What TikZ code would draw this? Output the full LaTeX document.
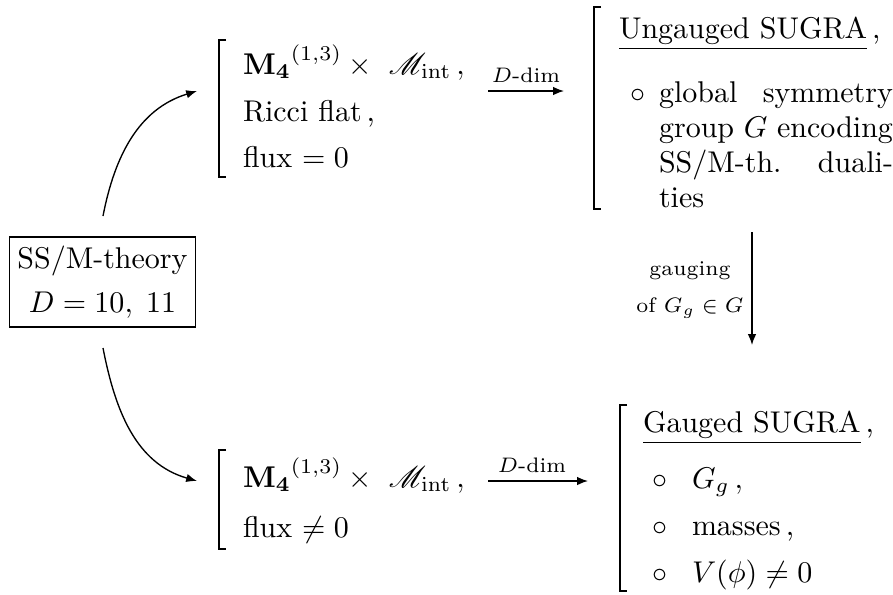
\documentclass[tikz,border=0pt]{standalone}
\usepackage{amsmath,amssymb}
\usepackage{mathrsfs}
\usetikzlibrary{arrows.meta}
\begin{document}
\begin{tikzpicture}[x=0.33333pt,y=-0.33333pt,
  txt/.style={anchor=base west, inner sep=0pt, outer sep=0pt},
  brk/.style={line width=0.8pt},
  arr/.style={-{Latex[length=3.6pt,width=2.8pt]}, line width=0.45pt},
  lab/.style={font=\scriptsize, inner sep=0pt, anchor=base}]
\useasboundingbox (0,0) rectangle (893,594);

% source box
\node[draw, line width=0.45pt, minimum width=62pt, minimum height=30pt,
      align=center, inner sep=0pt] (src) at (102.5,282)
      {SS/M-theory\\[2.5pt] $D = 10,\; 11$};
\coordinate (s1) at (103,216);
\coordinate (s2) at (103,348);
\coordinate (t1) at (197,91);
\coordinate (t2) at (197,481);
\draw[arr] (s1) to[out=79, in=197] (t1);
\draw[arr] (s2) to[out=-79, in=164] (t2);

% top-left block
\draw[brk] (226,40) -- (219,40) -- (219,177) -- (226,177);
\node[txt] (a1) at (243,74) {$\mathbf{M_4}^{(1,3)}\times\ \mathscr{M}_{\rm int}\,,$};
\node[txt] (a2) at (243,121) {Ricci flat\,,};
\node[txt] (a3) at (243,167) {flux $=0$};

% top D-dim arrow
\coordinate (d1s) at (488,91);
\coordinate (d1e) at (564,91);
\draw[arr] (d1s) -- (d1e);
\node[lab] (d1l) at (526,82) {$D$-dim};

% top-right block
\draw[brk] (601,7) -- (594,7) -- (594,209) -- (601,209);
\node[txt] (u0) at (619,38) {\underline{Ungauged SUGRA}\,,};
\node[txt] (u1b) at (630,102) {$\circ$};
\node[txt] (u1) at (659,102) {\makebox[78pt][s]{global symmetry}};
\node[txt] (u2) at (659,137) {\makebox[78pt][s]{group $G$ encoding}};
\node[txt] (u3) at (659,172) {\makebox[78pt][s]{SS/M-th. duali-}};
\node[txt] (u4) at (659,207) {ties};

% vertical gauging arrow
\coordinate (gs) at (752,232);
\coordinate (ge) at (752,345);
\draw[arr] (gs) -- (ge);
\node[lab] (g1) at (690,275) {gauging};
\node[lab] (g2) at (690,312) {of $G_g\in G$};

% bottom-left block
\draw[brk] (226,450) -- (219,450) -- (219,549) -- (226,549);
\node[txt] (b1) at (243,487) {$\mathbf{M_4}^{(1,3)}\times\ \mathscr{M}_{\rm int}\,,$};
\node[txt] (b2) at (243,537) {flux $\neq 0$};

% bottom D-dim arrow
\coordinate (d2s) at (488,481);
\coordinate (d2e) at (588,481);
\draw[arr] (d2s) -- (d2e);
\node[lab] (d2l) at (532,472) {$D$-dim};

% bottom-right block
\draw[brk] (627,405) -- (620,405) -- (620,591) -- (627,591);
\node[txt] (v0) at (643,432) {\underline{Gauged SUGRA}\,,};
\node[txt] (v1b) at (652,488) {$\circ$};
\node[txt] (v1) at (692,488) {$G_g\,,$};
\node[txt] (v2b) at (652,535) {$\circ$};
\node[txt] (v2) at (692,535) {masses\,,};
\node[txt] (v3b) at (652,582) {$\circ$};
\node[txt] (v3) at (692,582) {$V(\phi)\neq 0$};
\end{tikzpicture}
\end{document}
